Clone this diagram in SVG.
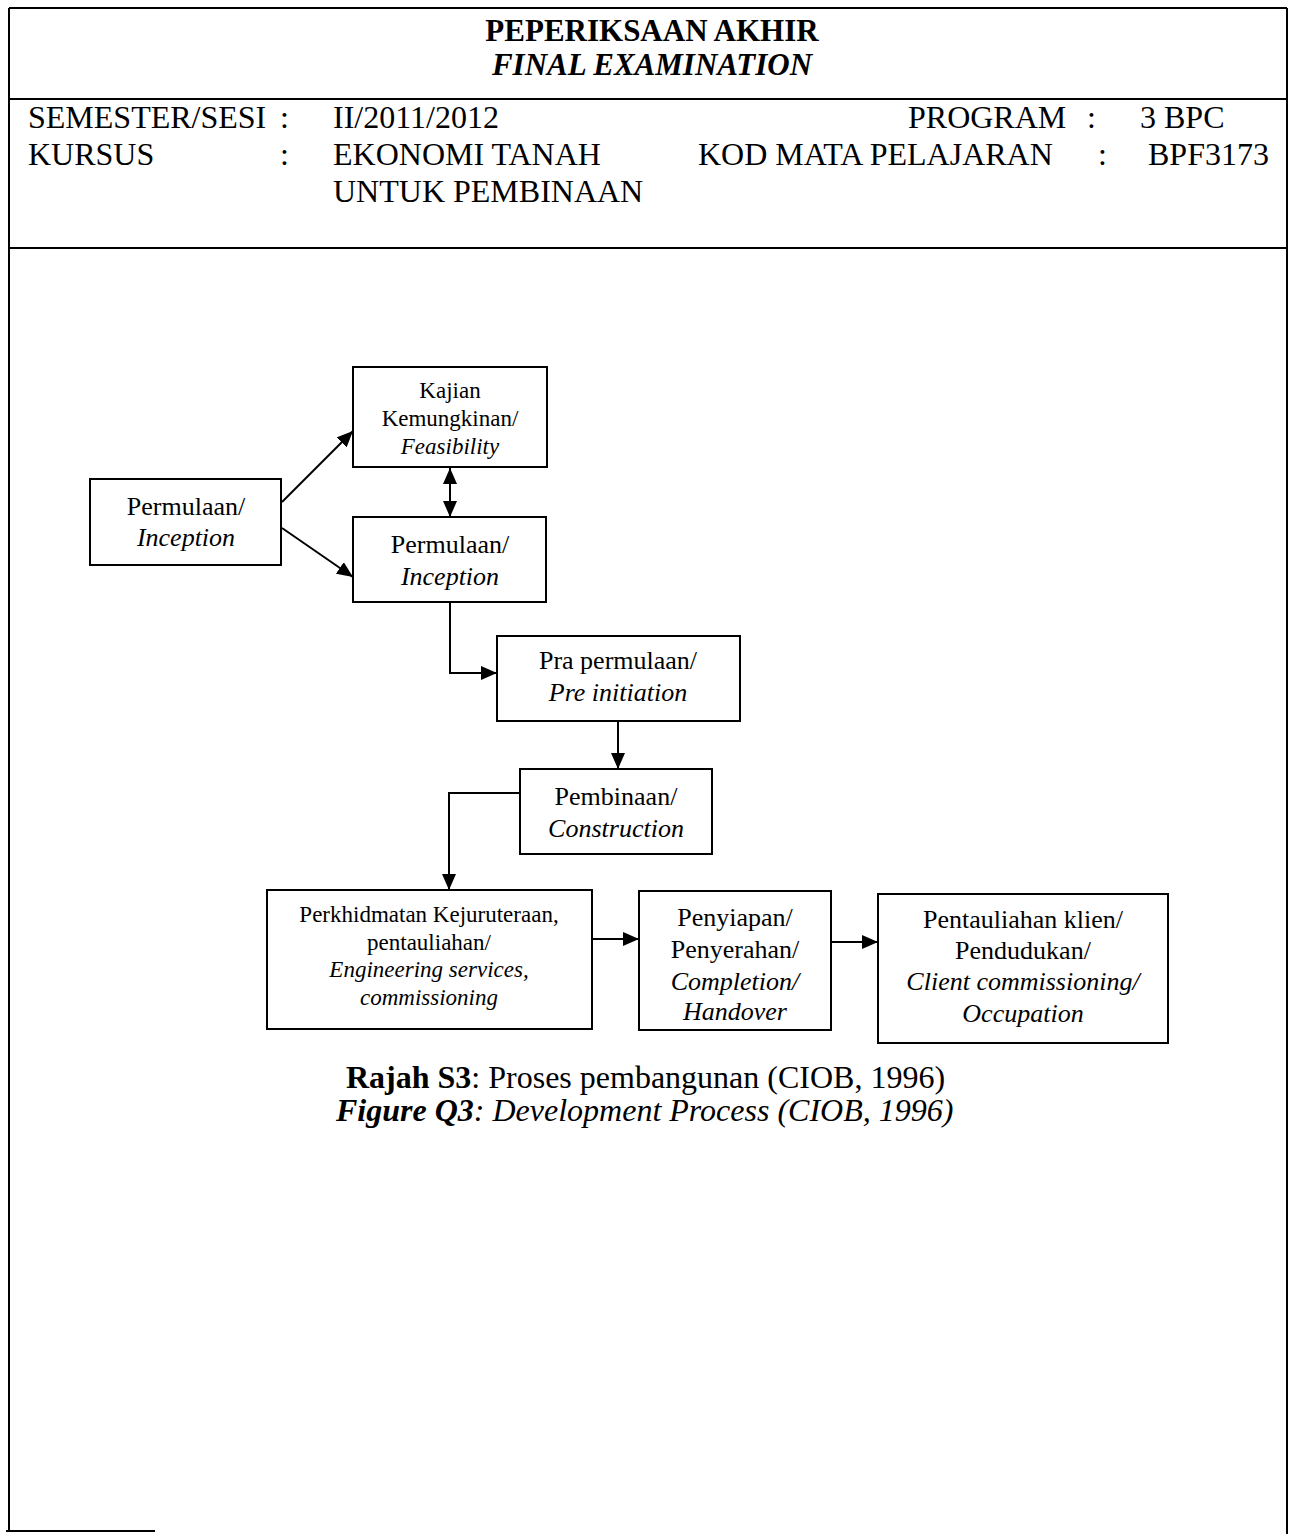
<svg xmlns="http://www.w3.org/2000/svg" width="1292" height="1534" viewBox="0 0 1292 1534">
<defs>
<style>
text{font-family:"Liberation Serif","Times New Roman",serif;fill:#000}
.hd{font-size:32px}
.tt{font-size:31px;font-weight:bold;text-anchor:middle}
.b{fill:#fff;stroke:#000;stroke-width:2}
.c{fill:none;stroke:#000;stroke-width:2}
.t26{font-size:26px;text-anchor:middle}
.t23{font-size:23px;text-anchor:middle}
.i{font-style:italic}
.cap{font-size:32px}
</style>
<marker id="ah" viewBox="0 0 16 14" refX="16" refY="7" markerWidth="16" markerHeight="14" markerUnits="userSpaceOnUse" orient="auto-start-reverse">
<path d="M0,0 L16,7 L0,14 Z" fill="#000"/>
</marker>
</defs>
<rect width="1292" height="1534" fill="#fff"/>
<g id="frame" class="c">
<line x1="9" y1="8" x2="1287" y2="8"/>
<line x1="9" y1="8" x2="9" y2="1531"/>
<line x1="1287" y1="8" x2="1287" y2="1534"/>
<line x1="9" y1="99" x2="1287" y2="99"/>
<line x1="9" y1="248" x2="1287" y2="248"/>
<line x1="6" y1="1531" x2="155" y2="1531"/>
</g>
<g id="header">
<text class="tt" x="652" y="41">PEPERIKSAAN AKHIR</text>
<text class="tt i" x="652" y="75">FINAL EXAMINATION</text>
<text class="hd" x="28" y="128">SEMESTER/SESI</text>
<text class="hd" x="280" y="128">:</text>
<text class="hd" x="333" y="128">II/2011/2012</text>
<text class="hd" x="908" y="128">PROGRAM</text>
<text class="hd" x="1087" y="128">:</text>
<text class="hd" x="1140" y="128">3 BPC</text>
<text class="hd" x="28" y="165">KURSUS</text>
<text class="hd" x="280" y="165">:</text>
<text class="hd" x="333" y="165">EKONOMI TANAH</text>
<text class="hd" x="698" y="165">KOD MATA PELAJARAN</text>
<text class="hd" x="1098" y="165">:</text>
<text class="hd" x="1148" y="165">BPF3173</text>
<text class="hd" x="333" y="202">UNTUK PEMBINAAN</text>
</g>
<g id="connectors" class="c">
<line x1="282" y1="502" x2="353" y2="431" marker-end="url(#ah)"/>
<line x1="282" y1="528" x2="353" y2="577" marker-end="url(#ah)"/>
<line x1="450" y1="468" x2="450" y2="517" marker-start="url(#ah)" marker-end="url(#ah)"/>
<polyline points="450,602 450,673 497,673" marker-end="url(#ah)"/>
<line x1="618" y1="721" x2="618" y2="769" marker-end="url(#ah)"/>
<polyline points="520,793 449,793 449,890" marker-end="url(#ah)"/>
<line x1="592" y1="939" x2="639" y2="939" marker-end="url(#ah)"/>
<line x1="831" y1="942" x2="878" y2="942" marker-end="url(#ah)"/>
</g>
<g id="n1">
<rect class="b" x="90" y="479" width="191" height="86"/>
<text class="t26" x="186" y="515">Permulaan/</text>
<text class="t26 i" x="186" y="546">Inception</text>
</g>
<g id="n2">
<rect class="b" x="353" y="367" width="194" height="100"/>
<text class="t23" x="450" y="398">Kajian</text>
<text class="t23" x="450" y="426">Kemungkinan/</text>
<text class="t23 i" x="450" y="454">Feasibility</text>
</g>
<g id="n3">
<rect class="b" x="353" y="517" width="193" height="85"/>
<text class="t26" x="450" y="553">Permulaan/</text>
<text class="t26 i" x="450" y="585">Inception</text>
</g>
<g id="n4">
<rect class="b" x="497" y="636" width="243" height="85"/>
<text class="t26" x="618" y="669">Pra permulaan/</text>
<text class="t26 i" x="618" y="701">Pre initiation</text>
</g>
<g id="n5">
<rect class="b" x="520" y="769" width="192" height="85"/>
<text class="t26" x="616" y="805">Pembinaan/</text>
<text class="t26 i" x="616" y="837">Construction</text>
</g>
<g id="n6">
<rect class="b" x="267" y="890" width="325" height="139"/>
<text class="t23" x="429" y="922">Perkhidmatan Kejuruteraan,</text>
<text class="t23" x="429" y="950">pentauliahan/</text>
<text class="t23 i" x="429" y="977">Engineering services,</text>
<text class="t23 i" x="429" y="1005">commissioning</text>
</g>
<g id="n7">
<rect class="b" x="639" y="891" width="192" height="139"/>
<text class="t26" x="735" y="926">Penyiapan/</text>
<text class="t26" x="735" y="958">Penyerahan/</text>
<text class="t26 i" x="735" y="990">Completion/</text>
<text class="t26 i" x="735" y="1020">Handover</text>
</g>
<g id="n8">
<rect class="b" x="878" y="894" width="290" height="149"/>
<text class="t26" x="1023" y="928">Pentauliahan klien/</text>
<text class="t26" x="1023" y="959">Pendudukan/</text>
<text class="t26 i" x="1023" y="990">Client commissioning/</text>
<text class="t26 i" x="1023" y="1022">Occupation</text>
</g>
<g id="caption">
<text class="cap" x="346" y="1088"><tspan font-weight="bold">Rajah S3</tspan>: Proses pembangunan (CIOB, 1996)</text>
<text class="cap i" x="336" y="1121"><tspan font-weight="bold">Figure Q3</tspan>: Development Process (CIOB, 1996)</text>
</g>
</svg>
